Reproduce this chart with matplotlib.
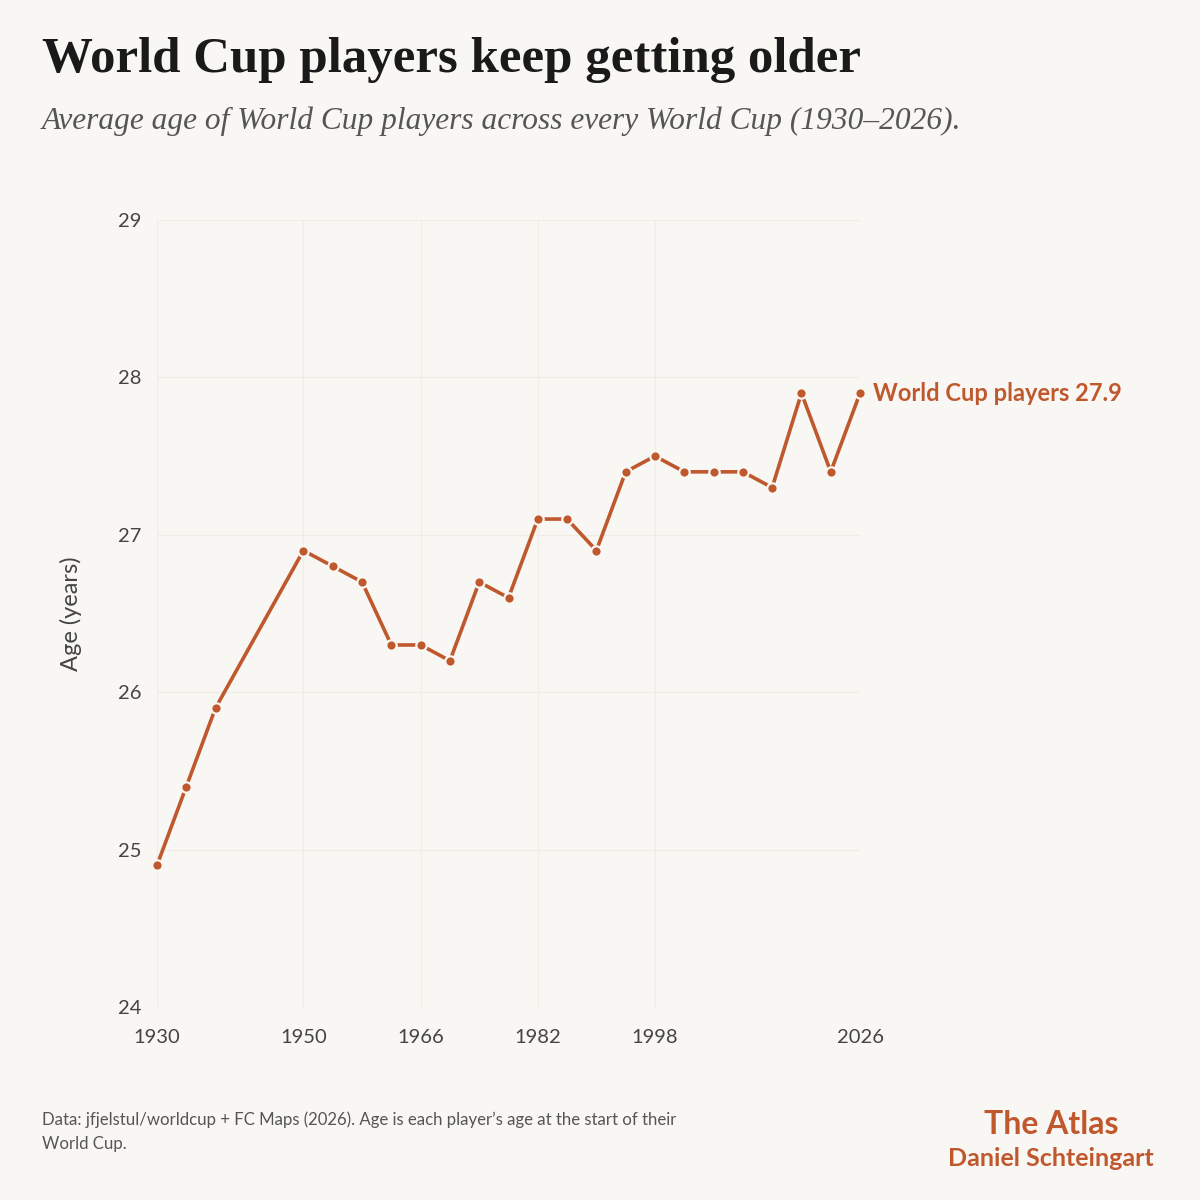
import matplotlib
matplotlib.use("Agg")
import matplotlib.pyplot as plt

# Average age per World Cup
years = [1930, 1934, 1938, 1950, 1954, 1958, 1962, 1966, 1970, 1974, 1978, 1982,
         1986, 1990, 1994, 1998, 2002, 2006, 2010, 2014, 2018, 2022, 2026]
ages = [24.9, 25.4, 25.9, 26.9, 26.8, 26.7, 26.3, 26.3, 26.2, 26.7, 26.6, 27.1,
        27.1, 26.9, 27.4, 27.5, 27.4, 27.4, 27.4, 27.3, 27.9, 27.4, 27.9]
x_ticks = [1930, 1950, 1966, 1982, 1998, 2026]
y_ticks = [24, 25, 26, 27, 28, 29]

bg = "#f9f7f3"
accent = "#c0582e"
sans = "Lato"
serif = "Liberation Serif"

fig = plt.figure(figsize=(12, 12), dpi=100, facecolor=bg)
ax = fig.add_axes([0.1308, 0.1608, 0.5859, 0.6559], facecolor=bg)

ax.plot(years, ages, color=accent, lw=2.6, marker="o", ms=7.5,
        markerfacecolor=accent, markeredgecolor=bg, markeredgewidth=1.6,
        clip_on=False, zorder=3)

ax.set_xlim(1930, 2026)
ax.set_ylim(24, 29)
ax.set_xticks(x_ticks)
ax.set_yticks(y_ticks)
ax.grid(True, color="#efede6", lw=1)
for s in ax.spines.values():
    s.set_visible(False)
ax.tick_params(axis="x", pad=16)
ax.tick_params(axis="y", pad=11)
ax.tick_params(length=0, labelsize=14.5, labelcolor="#444444")
for lab in ax.get_xticklabels() + ax.get_yticklabels():
    lab.set_fontfamily(sans)
ax.set_ylabel("Age (years)", fontsize=17, color="#444444", family=sans, labelpad=26)

# end label
ax.annotate(f"World Cup players {ages[-1]}", xy=(years[-1], ages[-1]),
            xytext=(9, 0), textcoords="offset points", va="center", ha="left",
            fontsize=17, color=accent, family=sans, fontweight="bold",
            annotation_clip=False)

fig.text(0.035, 0.950, "World Cup players keep getting older", fontsize=36.6,
         fontweight="bold", family=serif, color="#1a1a1a", va="center")
fig.text(0.035, 0.899, "Average age of World Cup players across every World Cup (1930\u20132026).",
         fontsize=22.6, style="italic", family=serif, color="#555555", va="center")

fig.text(0.035, 0.0665, "Data: jfjelstul/worldcup + FC Maps (2026). Age is each player\u2019s age at the start of their",
         fontsize=12.1, family=sans, color="#555555", va="center")
fig.text(0.035, 0.0465, "World Cup.", fontsize=12.1, family=sans, color="#555555", va="center")
fig.text(0.876, 0.0625, "The Atlas", fontsize=23, family=sans, color=accent,
         fontweight="bold", ha="center", va="center")
fig.text(0.876, 0.035, "Daniel Schteingart", fontsize=18, family=sans, color=accent,
         fontweight="bold", ha="center", va="center")

fig.savefig("out.png", dpi=100, facecolor=bg)
